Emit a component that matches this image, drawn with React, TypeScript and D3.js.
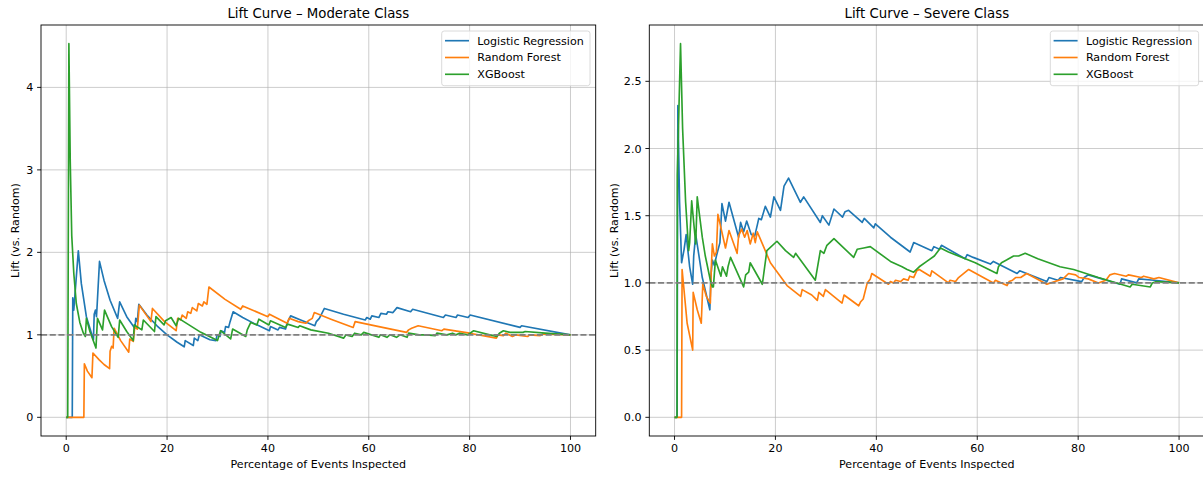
import React from 'react';
import * as d3 from 'd3';

type Pt = [number, number];

const seriesNames = ['Logistic Regression', 'Random Forest', 'XGBoost'];
const seriesColors = ['#1f77b4', '#ff7f0e', '#2ca02c'];
const xTicks = [0, 20, 40, 60, 80, 100];
const moderateYTicks = [0, 1, 2, 3, 4];
const severeYTicks = [0, 0.5, 1, 1.5, 2, 2.5];
const titles = ['Lift Curve – Moderate Class', 'Lift Curve – Severe Class'];
const xLabel = 'Percentage of Events Inspected';
const yLabel = 'Lift (vs. Random)';
const baselineLift = 1;

const moderateLR: Pt[] = [
  [0, 0], [1.2, 0], [1.3, 1.45], [1.5, 1.3], [2.4, 2.02], [3.0, 1.62], [4.0, 1.22], [5.4, 0.94],
  [5.55, 1.25], [5.8, 1.3], [6.0, 1.22], [6.1, 1.32], [6.6, 1.89], [7.5, 1.66], [8.7, 1.42], [10.2, 1.2],
  [10.6, 1.4], [12.0, 1.22], [13.6, 1.08], [13.8, 1.2], [14.1, 1.16], [14.4, 1.37], [16, 1.24], [18, 1.11],
  [20, 1.0], [22, 0.91], [23.4, 0.855], [23.6, 0.93], [25.2, 0.87], [25.4, 0.96], [26.1, 0.93], [26.4, 1.0],
  [28.5, 0.94], [29.7, 0.93], [29.9, 1.0], [30.5, 0.98], [30.7, 1.05], [31.4, 1.03], [31.6, 1.1], [32.2, 1.09],
  [32.5, 1.16], [33.1, 1.28], [35, 1.21], [37.5, 1.13], [40.3, 1.05], [40.5, 1.1], [42, 1.06], [42.3, 1.09],
  [43.5, 1.07], [43.8, 1.14], [44.5, 1.23], [46.5, 1.18], [49.3, 1.11], [49.6, 1.16], [50.2, 1.2], [51.2, 1.32],
  [55, 1.25], [59.3, 1.18], [59.6, 1.21], [60.3, 1.19], [60.6, 1.23], [62, 1.21], [62.4, 1.26], [63.5, 1.25],
  [63.8, 1.28], [64.8, 1.27], [65.6, 1.33], [68.3, 1.28], [68.7, 1.31], [74.8, 1.21], [75.2, 1.24], [77.3, 1.21],
  [77.6, 1.24], [79.7, 1.21], [80.1, 1.24], [90.0, 1.09], [90.3, 1.11], [100, 1.0],
];

const moderateRF: Pt[] = [
  [0, 0], [3.5, 0], [3.6, 0.65], [4.2, 0.56], [5.1, 0.48], [5.3, 0.78], [6.5, 0.7], [7.5, 0.64], [8.6, 0.59],
  [8.7, 0.8], [9.0, 0.86], [9.3, 0.84], [9.5, 1.08], [10.8, 0.93], [12.4, 0.79], [12.6, 0.95], [13.3, 0.92],
  [13.6, 1.1], [14.1, 1.07], [14.5, 1.36], [16.8, 1.16], [17.1, 1.32], [19.5, 1.16], [21.8, 1.05], [22.1, 1.2],
  [22.7, 1.18], [23.0, 1.24], [23.8, 1.2], [24.1, 1.28], [24.7, 1.26], [25.0, 1.33], [25.9, 1.29], [26.2, 1.38],
  [27.0, 1.35], [27.3, 1.4], [27.9, 1.37], [28.3, 1.58], [31.5, 1.43], [34.6, 1.31], [35.0, 1.35], [40.0, 1.22],
  [40.3, 1.25], [43.8, 1.14], [44.2, 1.2], [46.0, 1.16], [47.5, 1.14], [48.0, 1.17], [48.8, 1.2], [49.2, 1.27],
  [52.5, 1.19], [56.9, 1.09], [57.3, 1.16], [62, 1.1], [67.5, 1.03], [67.9, 1.06], [68.5, 1.08], [69.8, 1.11],
  [74.5, 1.05], [74.9, 1.07], [80, 1.02], [85.3, 0.96], [85.6, 1.0], [86.7, 0.99], [87.2, 1.02], [88.5, 0.98],
  [89.2, 1.0], [91.5, 0.98], [91.9, 1.0], [94, 0.99], [94.5, 1.01], [100, 1.0],
];

const moderateXGB: Pt[] = [
  [0, 0], [0.3, 0], [0.53, 4.53], [0.8, 3.1], [1.1, 2.2], [1.5, 1.75], [2.0, 1.38], [2.7, 1.15], [3.4, 1.02],
  [3.8, 0.98], [4.0, 1.2], [4.7, 1.04], [5.9, 0.84], [6.2, 1.2], [7.2, 1.06], [7.6, 1.3], [9.0, 1.1],
  [10.3, 0.97], [10.6, 1.18], [12, 1.04], [13.3, 0.93], [13.5, 1.12], [15, 1.06], [15.3, 1.18], [17.5, 1.04],
  [17.8, 1.22], [19.4, 1.12], [19.7, 1.17], [20.8, 1.21], [21.8, 1.11], [22.3, 1.2], [26.7, 1.03], [30, 0.93],
  [30.6, 1.05], [32.6, 0.95], [33.0, 1.07], [35.6, 0.98], [35.9, 1.06], [36.6, 1.15], [37.8, 1.12], [38.2, 1.19],
  [40.2, 1.12], [40.5, 1.17], [43.5, 1.09], [43.9, 1.13], [46, 1.09], [46.3, 1.11], [48.5, 1.06], [52, 1.02],
  [55, 0.96], [55.5, 1.0], [56.7, 0.98], [57.2, 1.02], [58.5, 1.0], [59, 1.03], [62, 0.97], [62.3, 1.0],
  [63.6, 0.97], [64.2, 1.0], [65.5, 0.97], [66.2, 1.0], [67.6, 0.97], [67.9, 1.02], [70, 1.0], [71.5, 1.0],
  [73.2, 0.99], [73.5, 1.02], [75.5, 1.0], [76.6, 1.02], [77.3, 1.0], [78, 1.02], [79.6, 1.0], [80.8, 1.05],
  [84, 1.0], [85.4, 0.98], [85.9, 1.02], [86.7, 1.05], [88, 1.03], [90.6, 1.03], [91, 1.04], [95, 1.02], [100, 1.0],
];

const severeLR: Pt[] = [
  [0, 0], [0.5, 0], [0.6, 1.5], [0.66, 2.32], [1.0, 1.6], [1.4, 1.15], [1.9, 1.25], [2.3, 1.36], [3.0, 1.12],
  [3.6, 0.99], [3.8, 1.2], [4.2, 1.36], [5.5, 1.04], [7.0, 0.8], [7.2, 1.05], [7.5, 1.17], [7.9, 1.13],
  [8.3, 1.2], [9.0, 1.3], [9.4, 1.59], [10.1, 1.46], [10.8, 1.6], [12.7, 1.34], [13.1, 1.45], [13.7, 1.38],
  [14.3, 1.46], [15.2, 1.36], [15.9, 1.35], [16.4, 1.43], [16.7, 1.48], [17.2, 1.47], [18, 1.57], [19.0, 1.49],
  [19.7, 1.64], [21.0, 1.54], [21.7, 1.72], [22.6, 1.78], [24.95, 1.6], [25.6, 1.64], [28.9, 1.45], [29.3, 1.5],
  [30.6, 1.43], [31.6, 1.55], [33.3, 1.49], [33.8, 1.53], [34.5, 1.54], [37.2, 1.45], [37.6, 1.48], [39.5, 1.41],
  [39.8, 1.44], [42.8, 1.34], [46.7, 1.23], [47.4, 1.3], [51, 1.24], [51.4, 1.27], [52.5, 1.25], [52.9, 1.28],
  [57.6, 1.18], [58.0, 1.21], [59.2, 1.19], [62.6, 1.14], [63.2, 1.16], [67.9, 1.07], [68.4, 1.09], [73.8, 1.01],
  [74.2, 1.04], [76, 1.02], [76.5, 1.04], [80.7, 1.01], [81.2, 1.04], [82, 1.06], [88.3, 0.99], [88.6, 1.03],
  [91.6, 1.0], [92, 1.03], [95, 1.02], [100, 1.0],
];

const severeRF: Pt[] = [
  [0, 0], [1.4, 0], [1.5, 1.1], [2.5, 0.7], [3.6, 0.5], [3.7, 0.93], [4.5, 0.8], [5.3, 0.7], [5.6, 0.99],
  [6.3, 0.9], [7.1, 0.85], [7.3, 1.12], [7.5, 1.29], [7.9, 1.2], [8.3, 1.23], [8.6, 1.51], [10.1, 1.26],
  [10.8, 1.39], [12.4, 1.22], [12.7, 1.35], [13.3, 1.4], [13.9, 1.34], [14.4, 1.39], [15.0, 1.29], [15.6, 1.37],
  [16.0, 1.3], [16.4, 1.38], [19, 1.15], [22.3, 0.98], [25.0, 0.9], [25.3, 0.95], [27.2, 0.91], [28.3, 0.87],
  [28.6, 0.93], [29.5, 0.9], [29.9, 0.95], [33.2, 0.85], [33.6, 0.91], [36.5, 0.83], [36.9, 0.86], [37.4, 0.88],
  [38.2, 1.0], [38.8, 1.03], [39.1, 1.07], [42.4, 0.99], [42.8, 1.01], [43.4, 1.0], [43.8, 1.02], [44.8, 1.01],
  [45.4, 1.03], [46.3, 1.02], [46.6, 1.05], [47.4, 1.04], [48, 1.09], [48.5, 1.1], [50.7, 1.05], [51, 1.09],
  [54.3, 1.0], [54.6, 1.02], [55.7, 1.01], [56.3, 1.04], [58.3, 1.1], [63.2, 1.0], [63.6, 1.02], [65.9, 0.98],
  [66.3, 1.01], [67, 1.02], [67.6, 1.04], [68.6, 1.04], [69.8, 1.07], [73.8, 0.99], [74.5, 1.0], [77, 1.03],
  [78.1, 1.07], [79.5, 1.06], [80.2, 1.04], [82, 1.03], [84, 1.0], [85.5, 1.02], [86.3, 1.06], [87.2, 1.07],
  [89.5, 1.05], [90, 1.06], [92.5, 1.04], [93, 1.05], [95, 1.03], [96, 1.04], [100, 1.0],
];

const severeXGB: Pt[] = [
  [0, 0], [0.5, 0], [0.55, 1.8], [1.19, 2.78], [1.6, 2.15], [2.2, 1.6], [2.8, 1.24], [3.0, 1.3], [3.4, 1.61],
  [4.2, 1.29], [4.5, 1.64], [5.5, 1.34], [6.1, 1.2], [7.1, 1.02], [7.5, 0.97], [7.7, 0.97], [8.1, 1.17],
  [9.2, 1.05], [9.5, 1.12], [10.3, 1.05], [10.6, 1.12], [11.1, 1.19], [13.7, 0.97], [14.1, 1.06], [14.7, 1.08],
  [15.0, 1.15], [17.4, 0.99], [18.3, 1.24], [20.3, 1.31], [22, 1.24], [23.6, 1.19], [24, 1.22], [27.9, 1.02],
  [28.9, 1.24], [29.6, 1.22], [30.2, 1.28], [31.6, 1.33], [35.5, 1.19], [36.2, 1.25], [37.5, 1.26], [38.8, 1.27],
  [42.8, 1.16], [45.1, 1.12], [46.1, 1.1], [47.4, 1.08], [48.5, 1.12], [50, 1.16], [51.5, 1.2], [52.7, 1.26],
  [54.3, 1.23], [59.6, 1.15], [63.9, 1.07], [64.2, 1.12], [64.8, 1.15], [65.8, 1.17], [67.2, 1.2], [68.2, 1.2],
  [69.5, 1.22], [72, 1.18], [76.4, 1.12], [79.1, 1.1], [84, 1.04], [90.3, 0.97], [90.7, 0.99], [94.3, 0.97],
  [94.7, 1.0], [95.5, 1.01], [100, 1.0],
];

const FONT = 'DejaVu Sans, sans-serif';

type PanelProps = {
  x0: number; x1: number; y0: number; y1: number;
  title: string; series: Pt[][]; yTicks: number[]; yFmt: (v: number) => string;
  yLabelX: number; id: string;
};

function Panel({ x0, x1, y0, y1, title, series, yTicks, yFmt, yLabelX, id }: PanelProps) {
  const allX = series.flat().map((d) => d[0]);
  const allY = series.flat().map((d) => d[1]);
  const [xmin, xmax] = d3.extent(allX) as [number, number];
  const [ymin, ymax] = d3.extent(allY) as [number, number];
  const xpad = (xmax - xmin) * 0.05;
  const ypad = (ymax - ymin) * 0.05;
  const x = d3.scaleLinear().domain([xmin - xpad, xmax + xpad]).range([x0, x1]);
  const y = d3.scaleLinear().domain([ymin - ypad, ymax + ypad]).range([y1, y0]);
  const line = d3.line<Pt>().x((d) => x(d[0])).y((d) => y(d[1]));
  const cx = (x0 + x1) / 2;
  const lgW = 148.3;
  const lgH = 54.7;
  const lgX = x1 - 5.7 - lgW;
  const lgY = y0 + 6;
  return (
    <g>
      <defs>
        <clipPath id={id}>
          <rect x={x0} y={y0} width={x1 - x0} height={y1 - y0} />
        </clipPath>
      </defs>
      {/* grid */}
      {xTicks.map((t) => (
        <line key={'gx' + t} x1={x(t)} x2={x(t)} y1={y0} y2={y1} stroke="#b0b0b0" strokeOpacity={0.7} strokeWidth={0.9} />
      ))}
      {yTicks.map((t) => (
        <line key={'gy' + t} x1={x0} x2={x1} y1={y(t)} y2={y(t)} stroke="#b0b0b0" strokeOpacity={0.7} strokeWidth={0.9} />
      ))}
      <g clipPath={`url(#${id})`}>
        {series.map((s, i) => (
          <path key={i} d={line(s) || ''} fill="none" stroke={seriesColors[i]} strokeWidth={1.65} strokeLinejoin="round" />
        ))}
      </g>
      <line x1={x0} x2={x1} y1={y(baselineLift)} y2={y(baselineLift)} stroke="#808080" strokeWidth={1.65} strokeDasharray="6.1,2.6" />
      {/* spines */}
      <rect x={x0} y={y0} width={x1 - x0} height={y1 - y0} fill="none" stroke="#000" strokeWidth={0.9} />
      {/* x ticks */}
      {xTicks.map((t) => (
        <g key={'tx' + t}>
          <line x1={x(t)} x2={x(t)} y1={y1} y2={y1 + 3.9} stroke="#000" strokeWidth={0.9} />
          <text x={x(t)} y={452.3} textAnchor="middle" fontSize={11.1} fontFamily={FONT} fill="#000">{t}</text>
        </g>
      ))}
      {yTicks.map((t) => (
        <g key={'ty' + t}>
          <line x1={x0} x2={x0 - 3.9} y1={y(t)} y2={y(t)} stroke="#000" strokeWidth={0.9} />
          <text x={x0 - 7.8} y={y(t)} dy="0.36em" textAnchor="end" fontSize={11.1} fontFamily={FONT} fill="#000">{yFmt(t)}</text>
        </g>
      ))}
      <text x={cx} y={18.3} textAnchor="middle" fontSize={13.3} fontFamily={FONT} fill="#000">{title}</text>
      <text x={cx} y={468} textAnchor="middle" fontSize={11.1} fontFamily={FONT} fill="#000">{xLabel}</text>
      <text transform={`translate(${yLabelX},${(y0 + y1) / 2}) rotate(-90)`} textAnchor="middle" fontSize={11.1} fontFamily={FONT} fill="#000">{yLabel}</text>
      {/* legend */}
      <rect x={lgX} y={lgY} width={lgW} height={lgH} rx={2.5} fill="#fff" fillOpacity={0.8} stroke="#d6d6d6" strokeWidth={0.9} />
      {seriesNames.map((n, i) => {
        const ly = lgY + 9.7 + i * 16.8;
        return (
          <g key={n}>
            <line x1={lgX + 3.3} x2={lgX + 27.3} y1={ly} y2={ly} stroke={seriesColors[i]} strokeWidth={1.65} />
            <text x={lgX + 35.6} y={ly} dy="0.36em" fontSize={11.1} fontFamily={FONT} fill="#000">{n}</text>
          </g>
        );
      })}
    </g>
  );
}

export default function App() {
  return (
    <div style={{ position: 'absolute', left: 0, top: 0, width: 1203, height: 477, background: '#fff' }}>
      <svg width={1203} height={477} viewBox="0 0 1203 477" style={{ display: 'block' }}>
        <rect x={0} y={0} width={1203} height={477} fill="#fff" />
        <Panel x0={41} x1={595.7} y0={25} y1={436} title={titles[0]}
          series={[moderateLR, moderateRF, moderateXGB]} yTicks={moderateYTicks}
          yFmt={(v) => d3.format('d')(v)} yLabelX={19} id="clipA" />
        <Panel x0={649.3} x1={1204.3} y0={25} y1={436} title={titles[1]}
          series={[severeLR, severeRF, severeXGB]} yTicks={severeYTicks}
          yFmt={(v) => d3.format('.1f')(v)} yLabelX={618} id="clipB" />
      </svg>
    </div>
  );
}
